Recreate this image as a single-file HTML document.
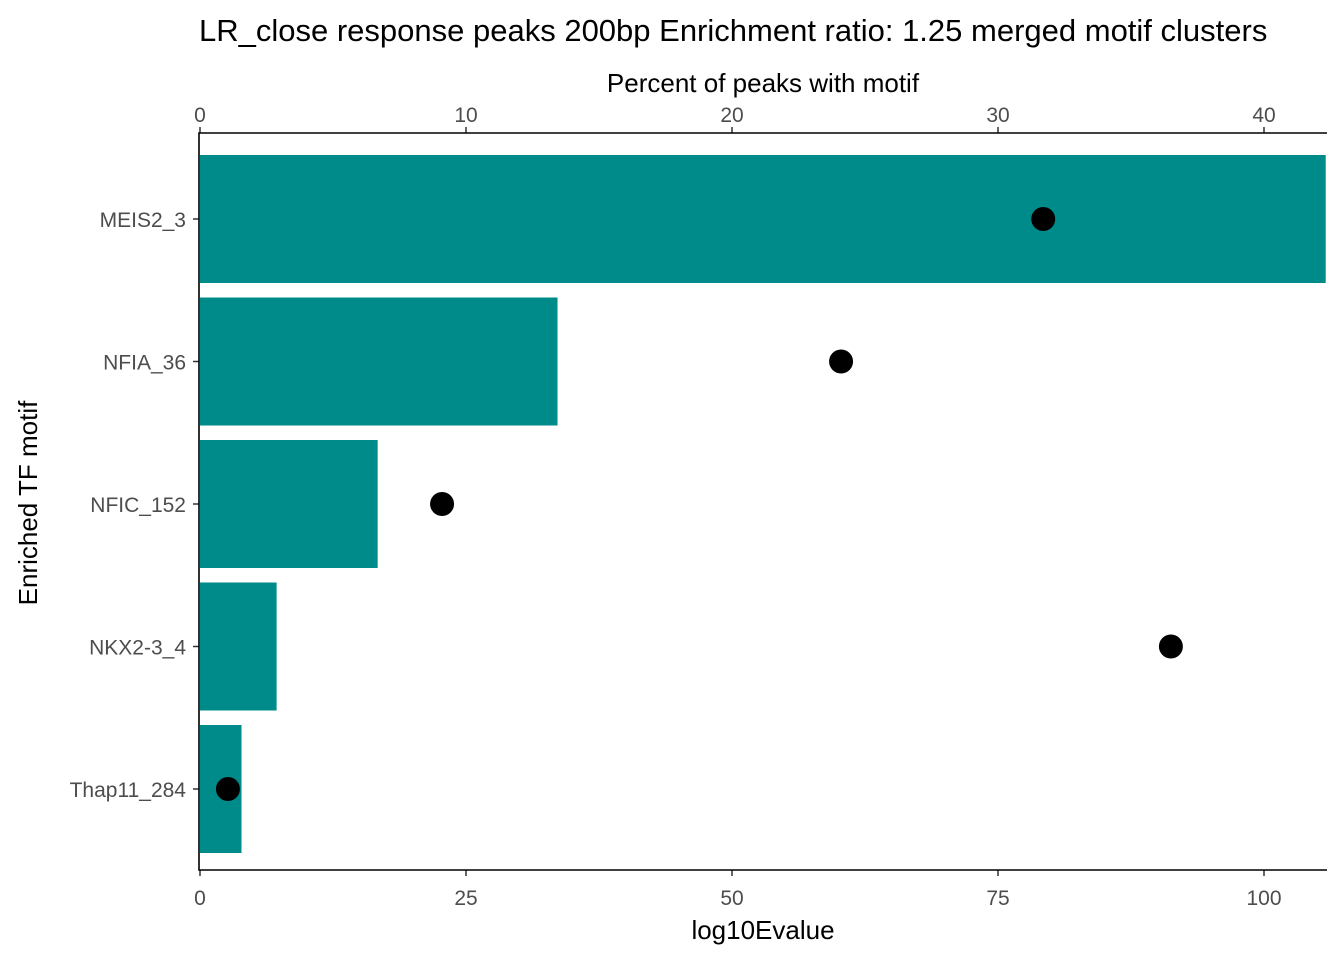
<!DOCTYPE html>
<html><head><meta charset="utf-8"><style>
body{margin:0;background:#fff;}
svg text{font-family:"Liberation Sans",Arial,sans-serif;}
</style></head><body>
<svg id="chart" width="1344" height="960" xmlns="http://www.w3.org/2000/svg">
<text x="199" y="41" font-size="31" fill="#000">LR_close response peaks 200bp Enrichment ratio: 1.25  merged motif clusters</text>
<text x="763" y="92" font-size="26" text-anchor="middle" fill="#000">Percent of peaks with motif</text>
<text x="763" y="939" font-size="26" text-anchor="middle" fill="#000">log10Evalue</text>
<text transform="translate(37,503) rotate(-90)" font-size="26" text-anchor="middle" fill="#000">Enriched TF motif</text>
<g id="plot"></g>
</svg>
<script>
const motifs = ["MEIS2_3","NFIA_36","NFIC_152","NKX2-3_4","Thap11_284"];
const log10Evalue = [105.8, 33.6, 16.7, 7.2, 3.9];
const percentPeaks = [31.7, 24.1, 9.1, 36.5, 1.05];
const bottomTicks = [0,25,50,75,100];
const topTicks = [0,10,20,30,40];

const NS="http://www.w3.org/2000/svg";
const g=document.getElementById('plot');
const L=199, R=1327, T=133, B=870;
const xBottom=v=>200+v*10.64;
const xTop=v=>200+v*26.6;
const yBand=i=>219+i*142.5;
const bh=128;
function mk(tag,attrs){const e=document.createElementNS(NS,tag);for(const k in attrs)e.setAttribute(k,attrs[k]);g.appendChild(e);return e;}

motifs.forEach((m,i)=>{
  const w=Math.min(xBottom(log10Evalue[i]),R)-200;
  const r=mk('rect',{x:200,y:yBand(i)-bh/2,width:w,height:bh,fill:'#008B8B'});
  
  
});
motifs.forEach((m,i)=>{
  const c=mk('circle',{cx:xTop(percentPeaks[i]),cy:yBand(i),r:12,fill:'#000'});
  
  
  const t=mk('line',{x1:L-6,x2:L,y1:yBand(i),y2:yBand(i),stroke:'#333','stroke-width':1.5});
  
  
  const lb=mk('text',{x:L-13,y:yBand(i)+8,'font-size':21,'text-anchor':'end',fill:'#4d4d4d'});
  lb.textContent=m;
  
  
});
bottomTicks.forEach(v=>{
  const t=mk('line',{x1:xBottom(v),x2:xBottom(v),y1:B,y2:B+6,stroke:'#333','stroke-width':1.5});
  
  
  const lb=mk('text',{x:xBottom(v),y:905,'font-size':21,'text-anchor':'middle',fill:'#4d4d4d'});
  lb.textContent=v;
  
  
});
topTicks.forEach(v=>{
  const t=mk('line',{x1:xTop(v),x2:xTop(v),y1:T-6,y2:T,stroke:'#333','stroke-width':1.5});
  
  
  const lb=mk('text',{x:xTop(v),y:122,'font-size':21,'text-anchor':'middle',fill:'#4d4d4d'});
  lb.textContent=v;
  
  
});
const ax=mk('path',{d:`M${R},${T}H${L}V${B}H${R}`,fill:'none',stroke:'#000','stroke-width':1.6});


</script>
</body></html>
